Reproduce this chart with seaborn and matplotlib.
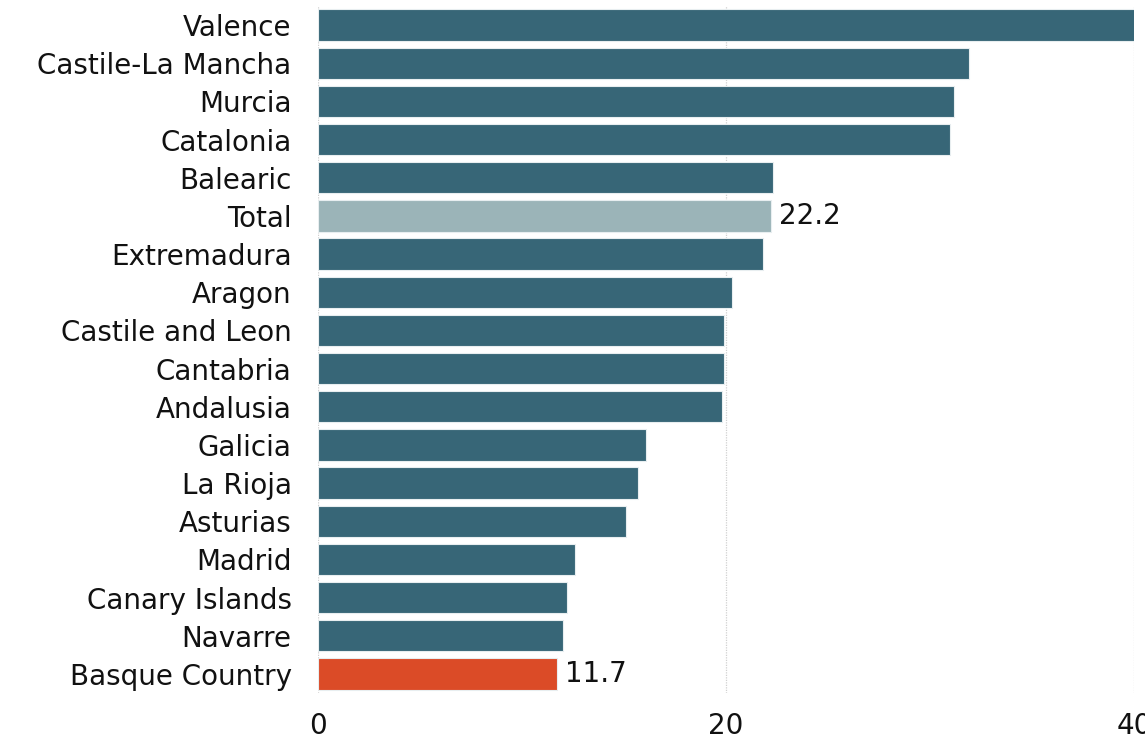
import matplotlib
matplotlib.use("Agg")
import matplotlib.pyplot as plt
import seaborn as sns
import pandas as pd

regions = ["Valence", "Castile-La Mancha", "Murcia", "Catalonia", "Balearic", "Total",
           "Extremadura", "Aragon", "Castile and Leon", "Cantabria", "Andalusia",
           "Galicia", "La Rioja", "Asturias", "Madrid", "Canary Islands", "Navarre",
           "Basque Country"]
values = [40.1, 31.9, 31.2, 31.0, 22.3, 22.2, 21.8, 20.3, 19.9, 19.9, 19.8,
          16.1, 15.7, 15.1, 12.6, 12.2, 12.0, 11.7]
labelled = ["Total", "Basque Country"]
x_ticks = [0, 20, 40]

base = "#376677"
colors = {r: base for r in regions}
colors["Total"] = "#9bb4b8"
colors["Basque Country"] = "#db4b27"

df = pd.DataFrame({"region": regions, "value": values})

sns.set_theme(style="white")
plt.rcParams["font.family"] = ["DejaVu Sans"]

fig = plt.figure(figsize=(11.45, 7.41), dpi=100)
ax = fig.add_axes([318 / 1145, 1 - 693 / 741, (1134 - 318) / 1145, (693 - 6) / 741])

sns.barplot(data=df, y="region", x="value", hue="region", palette=colors,
            legend=False, width=0.82, edgecolor="#e8eef0", linewidth=0.8, ax=ax,
            order=regions, saturation=1)

ax.set_xlim(0, 40)
ax.set_xticks(x_ticks)
ax.set_xlabel("")
ax.set_ylabel("")
for x in x_ticks:
    ax.axvline(x, color="#d0d0d0", linestyle=(0, (1, 1)), linewidth=0.9, zorder=0)
ax.set_axisbelow(True)
for s in ax.spines.values():
    s.set_visible(False)
ax.tick_params(axis="y", length=0, pad=19, labelsize=20, labelcolor="#111111")
ax.tick_params(axis="x", length=0, pad=14, labelsize=20, labelcolor="#111111")

for i, (r, v) in enumerate(zip(regions, values)):
    if r in labelled:
        ax.text(v + 0.4, i, f"{v:.1f}", va="center", ha="left", fontsize=20,
                color="#111111")

fig.savefig("out.png", dpi=100)
